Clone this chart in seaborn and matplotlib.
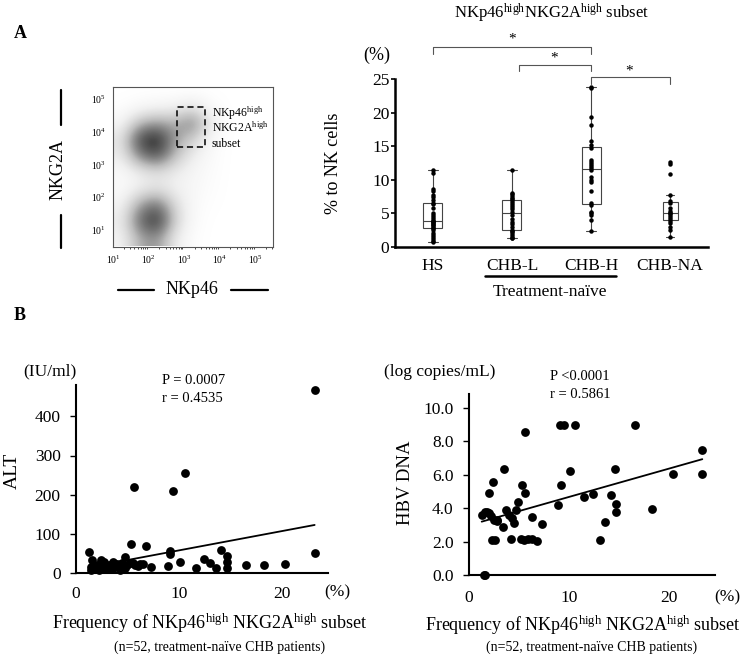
import numpy as np
import pandas as pd
import matplotlib
matplotlib.use("Agg")
import matplotlib.pyplot as plt
import seaborn as sns

# ---------------- data ----------------
groups = ["HS", "CHB-L", "CHB-H", "CHB-NA"]
hs = [0.7, 0.9, 1.2, 1.5, 1.8, 2.1, 2.5, 2.9, 2.9, 3.1, 3.3, 3.4, 3.6, 3.7, 3.8,
      3.9, 4.1, 4.4, 4.7, 5.0, 5.8, 6.4, 6.6, 7.0, 7.4, 7.8, 8.3, 8.7, 11.0, 11.4]
chb_l = [1.3, 1.4, 1.6, 1.9, 2.2, 2.4, 2.5, 3.0, 3.4, 3.7, 4.1, 4.8, 5.2, 5.6,
         6.0, 6.3, 6.6, 6.9, 7.1, 7.3, 7.6, 7.9, 8.1, 11.4]
chb_h = [2.4, 4.0, 4.7, 5.0, 5.2, 6.2, 6.5, 8.4, 9.6, 10.0, 10.4, 11.4, 11.8,
         12.0, 12.3, 12.7, 13.0, 14.8, 15.2, 15.7, 18.2, 19.3, 23.6, 23.8]
chb_na = [1.5, 2.6, 3.0, 3.5, 3.9, 4.2, 4.5, 4.8, 5.0, 5.1, 5.4, 5.8, 6.6, 6.8,
          7.7, 10.8, 12.3, 12.6]

alt_freq = [23.2, 23.2, 20.3, 18.3, 16.57, 14.7, 14.7, 14.7, 14.08, 13.6, 13.07,
            12.4, 11.65, 10.58, 10.1, 9.45, 9.13, 9.13, 8.9, 7.28,
            1.29, 1.45, 1.5, 1.6, 1.9, 2.0, 2.2, 2.4, 2.6, 2.7, 2.8, 3.2, 3.5,
            3.7, 3.6, 4.0, 4.2, 4.3, 4.5, 4.76, 4.8, 5.0, 5.24, 5.34, 5.5, 5.66,
            5.7, 6.0, 6.2, 6.5, 6.8, 3.0]
alt_values = [467, 50, 22, 20, 20, 43, 29, 12, 60, 12, 24.6,
              35, 12, 255, 29, 209, 57, 47.6, 18.7, 16,
              53, 16, 8, 33, 12, 20, 8, 33, 16, 28, 10, 20, 10,
              16, 28, 22, 16, 8, 25, 40, 14, 20, 24.6, 73, 25, 219,
              20, 18, 22, 24, 70, 14]

hbv_freq = [8.87, 9.1, 9.2, 9.5, 10.13, 10.6, 11.53, 12.43, 13.1, 13.6, 14.17,
            14.6, 14.67, 14.67, 16.6, 18.27, 20.37, 23.27, 23.33,
            1.27, 1.5, 1.6, 1.6, 1.75, 2.0, 2.03, 2.2, 2.27, 2.5, 2.6, 2.43,
            2.83, 2.75, 3.37, 3.53, 3.73, 4.0, 4.17, 4.33, 4.5, 4.73, 4.93,
            5.17, 5.27, 5.5, 5.6, 5.6, 5.93, 6.27, 6.27, 6.83, 7.27]
hbv_values = [4.19, 8.98, 5.39, 8.98, 6.23, 8.98, 4.69, 4.83, 2.1, 3.19, 4.79,
              6.33, 4.25, 3.79, 8.98, 3.95, 6.05, 7.49, 6.05,
              3.59, 0.0, 0.0, 3.8, 3.75, 3.7, 4.89, 3.55, 2.1, 3.29, 2.1, 5.59,
              3.25, 3.3, 2.89, 6.33, 3.89, 3.59, 2.16, 3.39, 3.09, 3.89, 4.39,
              2.16, 5.39, 2.1, 4.89, 8.58, 2.16, 2.16, 3.49, 2.06, 3.05]

# flow cytometry density read on a 0.5-decade grid (log10 units)
flow_x_centers = [1.25, 1.75, 2.25, 2.75, 3.25, 3.75, 4.25, 4.75, 5.25]
flow_y_centers = [0.75, 1.25, 1.75, 2.25, 2.75, 3.25, 3.75, 4.25, 4.75, 5.25]
flow_density = [
    [0.10, 0.45, 0.55, 0.15, 0.02, 0.00, 0, 0, 0],
    [0.15, 0.70, 0.95, 0.30, 0.04, 0.00, 0, 0, 0],
    [0.10, 0.50, 0.70, 0.25, 0.05, 0.01, 0, 0, 0],
    [0.04, 0.14, 0.20, 0.12, 0.07, 0.02, 0, 0, 0],
    [0.05, 0.14, 0.22, 0.15, 0.08, 0.03, 0, 0, 0],
    [0.15, 0.60, 0.80, 0.38, 0.14, 0.04, 0, 0, 0],
    [0.20, 0.85, 1.00, 0.50, 0.30, 0.06, 0, 0, 0],
    [0.08, 0.40, 0.50, 0.42, 0.65, 0.14, 0, 0, 0],
    [0.01, 0.05, 0.08, 0.10, 0.18, 0.04, 0, 0, 0],
    [0.00, 0.00, 0.00, 0.00, 0.00, 0.00, 0, 0, 0],
]
flow_ticks = [1, 2, 3, 4, 5]
flow_tick_labels = [r"$10^{1}$", r"$10^{2}$", r"$10^{3}$", r"$10^{4}$", r"$10^{5}$"]

# ---------------- style ----------------
sns.set_theme(style="white")
plt.rcParams["font.family"] = ["Liberation Serif", "DejaVu Serif"]
plt.rcParams["mathtext.fontset"] = "custom"
plt.rcParams["mathtext.rm"] = "Liberation Serif"
plt.rcParams["mathtext.it"] = "Liberation Serif:italic"
plt.rcParams["mathtext.bf"] = "Liberation Serif:bold"
plt.rcParams["text.color"] = "black"
plt.rcParams["axes.labelcolor"] = "black"
plt.rcParams["xtick.color"] = "black"
plt.rcParams["ytick.color"] = "black"

W, H = 750, 662
fig = plt.figure(figsize=(W / 100, H / 100), dpi=100)


def fx(x):
    return x / W


def fy(y):
    return 1 - y / H


def rect(l, t, r, b):
    return [fx(l), fy(b), (r - l) / W, (b - t) / H]


def ftext(x, y, s, **kw):
    kw.setdefault("ha", "center")
    kw.setdefault("va", "center")
    fig.text(fx(x), fy(y), s, **kw)


def fline(xs, ys, **kw):
    fig.add_artist(plt.Line2D([fx(v) for v in xs], [fy(v) for v in ys], **kw))


# ---------------- panel labels ----------------
ftext(14, 33, "A", fontsize=13, fontweight="bold", ha="left")
ftext(14, 316, "B", fontsize=13, fontweight="bold", ha="left")

# ---------------- flow cytometry plot ----------------
axf = fig.add_axes(rect(113, 87, 273, 247))
dx = (flow_x_centers[1] - flow_x_centers[0]) / 2
dy = (flow_y_centers[1] - flow_y_centers[0]) / 2
axf.imshow(np.array(flow_density), origin="lower",
           extent=(flow_x_centers[0] - dx, flow_x_centers[-1] + dx,
                   flow_y_centers[0] - dy, flow_y_centers[-1] + dy),
           cmap="Greys", vmin=0, vmax=1.05, interpolation="bicubic", aspect="auto")
axf.set_xlim(1.0, 5.5)
axf.set_ylim(0.48, 5.37)
axf.set_xticks(flow_ticks)
axf.set_xticklabels(flow_tick_labels, fontsize=7)
axf.set_yticks(flow_ticks)
axf.set_yticklabels(flow_tick_labels, fontsize=7)
minor = [d + np.log10(k) for d in range(1, 6) for k in range(2, 10) if d + np.log10(k) < 5.5]
axf.set_xticks(minor, minor=True)
axf.tick_params(axis="both", which="major", length=3, width=0.7, pad=2, direction="out")
axf.tick_params(axis="x", which="minor", length=1.5, width=0.5, direction="out", bottom=True)
for s in axf.spines.values():
    s.set_color("#555555")
    s.set_linewidth(0.8)
# gate
axf.plot([2.8, 3.6, 3.6, 2.8, 2.8], [3.53, 3.53, 4.75, 4.75, 3.53], ls=(0, (4, 2.5)),
         color="black", lw=1.1)
ftext(212, 113, r"NKp46$^{\mathrm{high}}$", fontsize=8.5, ha="left")
ftext(212, 128, r"NKG2A$^{\mathrm{high}}$", fontsize=8.5, ha="left")
ftext(212, 144, "subset", fontsize=8.5, ha="left")
# axis labels with bars
ftext(58, 170, "NKG2A", fontsize=13, rotation=90)
fline([61, 61], [90, 125], color="black", lw=1.6)
fline([61, 61], [215, 248], color="black", lw=1.6)
ftext(192, 289, "NKp46", fontsize=13)
fline([118, 154], [290, 290], color="black", lw=1.6)
fline([231, 268], [290, 290], color="black", lw=1.6)

# ---------------- box plot ----------------
axb = fig.add_axes(rect(395, 79, 708, 247))
df = pd.DataFrame({
    "group": np.repeat(groups, [len(hs), len(chb_l), len(chb_h), len(chb_na)]),
    "value": hs + chb_l + chb_h + chb_na,
})
box_kw = dict(x="group", y="value", order=groups, color="white", linecolor="#444444",
              linewidth=0.8, showfliers=False, ax=axb)
sns.boxplot(data=df[df["group"] != "CHB-NA"], width=0.24, whis=1.5, **box_kw)
sns.boxplot(data=df[df["group"] == "CHB-NA"], width=0.19, whis=1.0, **box_kw)
sns.stripplot(data=df, x="group", y="value", order=groups, jitter=False,
              color="black", size=3.2, ax=axb, zorder=4)
axb.set_xlim(-0.48, 3.48)
axb.set_ylim(0, 25)
axb.set_yticks([0, 5, 10, 15, 20, 25])
axb.tick_params(axis="y", labelsize=12.5, length=3, width=1.2, pad=1, left=True)
axb.tick_params(axis="x", labelsize=12.5, length=0, pad=8)
axb.set_xlabel("")
axb.set_ylabel("% to NK cells", fontsize=13)
axb.yaxis.set_label_coords((342 - 395) / 313, 0.5)
for side in ["top", "right"]:
    axb.spines[side].set_visible(False)
for side in ["left", "bottom"]:
    axb.spines[side].set_linewidth(1.8)
    axb.spines[side].set_color("black")

brackets = [(0, 2, 28.7, 29.7, 1.0, 31.0), (1.09, 2, 26.2, 27.1, 1.53, 28.1),
            (2, 3, 24.25, 25.25, 2.48, 26.2)]
for x0, x1, yb, yt, xs, ys in brackets:
    axb.plot([x0, x0, x1, x1], [yb, yt, yt, yb], color="#555555", lw=0.8, clip_on=False)
    axb.text(xs, ys, "*", ha="center", va="center", fontsize=11, clip_on=False)

ftext(552, 13, r"NKp46$^{\mathrm{high}}$NKG2A$^{\mathrm{high}}$ subset", fontsize=12)
ftext(377, 55, "(%)", fontsize=13)
fline([485, 616], [276, 276], color="black", lw=1.8)
ftext(550, 292, "Treatment-naïve", fontsize=12.5)


# ---------------- scatter plots ----------------
def style_scatter(ax):
    for side in ["top", "right"]:
        ax.spines[side].set_visible(False)
    for side in ["left", "bottom"]:
        ax.spines[side].set_linewidth(1.5)
        ax.spines[side].set_color("black")
    ax.tick_params(axis="y", labelsize=12.5, length=4, width=1.0, pad=7, left=True)
    ax.tick_params(axis="x", labelsize=12.5, length=0, pad=9)
    ax.set_xlabel("")
    ax.set_ylabel("")


xlab = r"Frequency of NKp46$^{\mathrm{high}}$ NKG2A$^{\mathrm{high}}$ subset"
note = "(n=52, treatment-naïve CHB patients)"

axa = fig.add_axes(rect(76, 385, 328, 573))
sns.regplot(x=alt_freq, y=alt_values, ci=None, color="black", ax=axa,
            scatter_kws=dict(s=40, alpha=1, linewidths=0, clip_on=False, zorder=3),
            line_kws=dict(lw=1.3, color="black"))
axa.set_xlim(0, 24.5)
axa.set_ylim(0, 480)
axa.set_xticks([0, 10, 20])
axa.set_yticks([0, 100, 200, 300, 400])
style_scatter(axa)
ftext(12, 471, "ALT", fontsize=14, rotation=90)
ftext(50, 371, "(IU/ml)", fontsize=12.5)
ftext(162, 380, "P = 0.0007", fontsize=10.5, ha="left")
ftext(162, 398, "r = 0.4535", fontsize=10.5, ha="left")
ftext(337, 592, "(%)", fontsize=12.5)
ftext(210, 623, xlab, fontsize=13)
ftext(220, 647, note, fontsize=10)

axh = fig.add_axes(rect(469, 394, 715, 575))
sns.regplot(x=hbv_freq, y=hbv_values, ci=None, color="black", ax=axh,
            scatter_kws=dict(s=40, alpha=1, linewidths=0, clip_on=False, zorder=3),
            line_kws=dict(lw=1.3, color="black"))
axh.set_xlim(0, 24.6)
axh.set_ylim(0, 10.84)
axh.set_xticks([0, 10, 20])
axh.set_yticks([0, 2, 4, 6, 8, 10])
axh.set_yticklabels(["0.0", "2.0", "4.0", "6.0", "8.0", "10.0"])
style_scatter(axh)
axh.tick_params(axis="x", pad=11)
ftext(405, 483, "HBV DNA", fontsize=13.5, rotation=90)
ftext(440, 372, "(log copies/mL)", fontsize=12.5)
ftext(550, 377, "P <0.0001", fontsize=10.5, ha="left")
ftext(550, 394, "r = 0.5861", fontsize=10.5, ha="left")
ftext(727, 597, "(%)", fontsize=12.5)
ftext(583, 625, xlab, fontsize=13)
ftext(592, 647, note, fontsize=10)

fig.savefig("out.png", dpi=100)
